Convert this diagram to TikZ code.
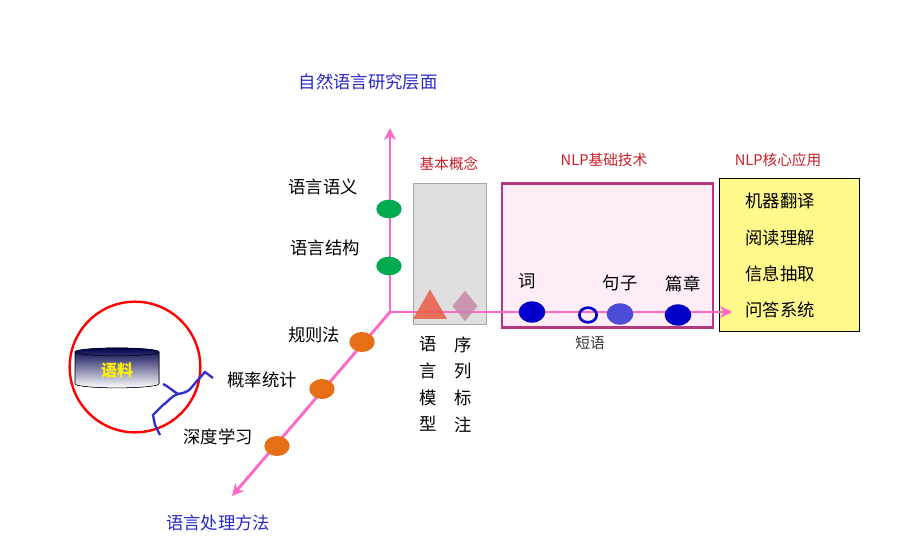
\documentclass[tikz,border=0pt]{standalone}
\usepackage{fontspec}
\newfontfamily\cjk{Noto Sans CJK SC}
\usetikzlibrary{shapes.geometric,arrows.meta}
\definecolor{axp}{RGB}{255,105,200}
\definecolor{gdot}{RGB}{0,170,80}
\definecolor{odot}{RGB}{230,110,20}
\definecolor{bdot}{RGB}{0,0,200}
\definecolor{ttl}{RGB}{40,40,200}
\definecolor{rtl}{RGB}{200,30,40}
\begin{document}
\begin{tikzpicture}[x=0.75pt,y=-0.75pt,font=\cjk\fontsize{13}{15}\selectfont,
 axis/.style={draw=axp,line width=2.2pt,-{Stealth[length=9pt,width=9pt]}},
 dotg/.style={ellipse,fill=gdot,minimum width=19pt,minimum height=14pt,inner sep=0},
 doto/.style={ellipse,fill=odot,minimum width=19pt,minimum height=15pt,inner sep=0},
 dotb/.style={ellipse,fill=bdot,minimum width=20pt,minimum height=16pt,inner sep=0},
 lbl/.style={inner sep=1pt}]
\useasboundingbox (0,0) rectangle (917,553);
\coordinate (O) at (390,312);
\coordinate (U) at (390,128);
\coordinate (R) at (732,312);
\coordinate (D) at (232,496);
% boxes
\node[draw=gray!70,fill=gray!25,minimum width=55pt,minimum height=106pt,inner sep=0] (gb) at (450,254) {};
\node[draw=magenta!70!black,line width=1.8pt,fill=magenta!7,minimum width=158pt,minimum height=108pt,inner sep=0] (pb) at (607.5,255.5) {};
\node[draw=black,fill=yellow!45,minimum width=105pt,minimum height=115pt,inner sep=0] (yb) at (789.5,255) {};
\draw[axis] (O) -- (U);
\draw[axis] (O) -- (R);
\draw[axis] (O) -- (D);
% titles
\node[text=ttl] (t1) at (368,82) {自然语言研究层面};
\node[text=ttl] (t2) at (218,523) {语言处理方法};
\node[text=rtl,font=\cjk\fontsize{11}{13}\selectfont] (t3) at (449,164) {基本概念};
\node[text=rtl,font=\cjk\fontsize{11}{13}\selectfont] (t4) at (604,160) {NLP基础技术};
\node[text=rtl,font=\cjk\fontsize{11}{13}\selectfont] (t5) at (778,160) {NLP核心应用};
% vertical axis
\node[dotg] (g1) at (389,209) {};
\node[dotg] (g2) at (389,266) {};
\node[lbl] (l1) at (323,187) {语言语义};
\node[lbl] (l2) at (325,248) {语言结构};
% diagonal
\node[doto] (o1) at (362,342) {};
\node[doto] (o2) at (322,389) {};
\node[doto] (o3) at (277,446) {};
\node[lbl] (l3) at (314,335) {规则法};
\node[lbl] (l4) at (262,380) {概率统计};
\node[lbl] (l5) at (218,437) {深度学习};
% basic concepts
\node[isosceles triangle,shape border rotate=90,isosceles triangle apex angle=60,fill=red!60!brown!80,opacity=0.85,minimum width=20pt,minimum height=22pt,inner sep=0] (tri) at (430,309) {};
\node[diamond,fill=magenta!40!gray!80,opacity=0.85,minimum width=19pt,minimum height=23pt,inner sep=0] (dia) at (465,306) {};
\node[lbl,align=center,font=\cjk\fontsize{13}{20}\selectfont,anchor=north] (v1) at (428,335) {语\\言\\模\\型};
\node[lbl,align=center,font=\cjk\fontsize{13}{20}\selectfont,anchor=north] (v2) at (463,335) {序\\列\\标\\注};
% NLP basic
\node[dotb] (w) at (532,312) {};
\node[ellipse,draw=bdot,line width=2pt,minimum width=13pt,minimum height=11pt,inner sep=0] (ph) at (588,315) {};
\node[dotb,fill=bdot!70] (s) at (620,314) {};
\node[dotb] (p) at (678,315) {};
\node[lbl] (lw) at (527,281) {词};
\node[lbl] (ls) at (620,283) {句子};
\node[lbl] (lp) at (683,284) {篇章};
\node[lbl,text=gray!40!black,font=\cjk\fontsize{11}{13}\selectfont] (lph) at (590,343) {短语};
% applications
\node[lbl] (a1) at (780,201) {机器翻译};
\node[lbl] (a2) at (780,238) {阅读理解};
\node[lbl] (a3) at (780,274) {信息抽取};
\node[lbl] (a4) at (780,310) {问答系统};
% corpus
\node[circle,draw=red,line width=1.8pt,minimum size=98pt,inner sep=0] (rc) at (135,367) {};
\node[cylinder,shape border rotate=90,aspect=0.25,draw=black,fill=blue!25!black,top color=blue!30!black,minimum width=63pt,minimum height=30pt,inner sep=0,text=yellow,font=\cjk\bfseries\fontsize{12}{14}\selectfont,cylinder uses custom fill,cylinder body fill=blue!25!black,cylinder end fill=blue!45!gray] (cyl) at (117,370) {语料};
\coordinate (b1) at (213,378);
\coordinate (b2) at (160,435);
\draw[draw=blue!60!gray,line width=1.8pt] (b1) -- (205,372) -- (196,382) .. controls (188,392) .. (178,394) .. controls (171,396) and (168,402) .. (163,405) -- (153,415) -- (155,425) -- (b2);
\draw[draw=blue!60!gray,line width=1.8pt] (178,394) .. controls (174,392) and (168,386) .. (163,384);
\end{tikzpicture}
\end{document}
